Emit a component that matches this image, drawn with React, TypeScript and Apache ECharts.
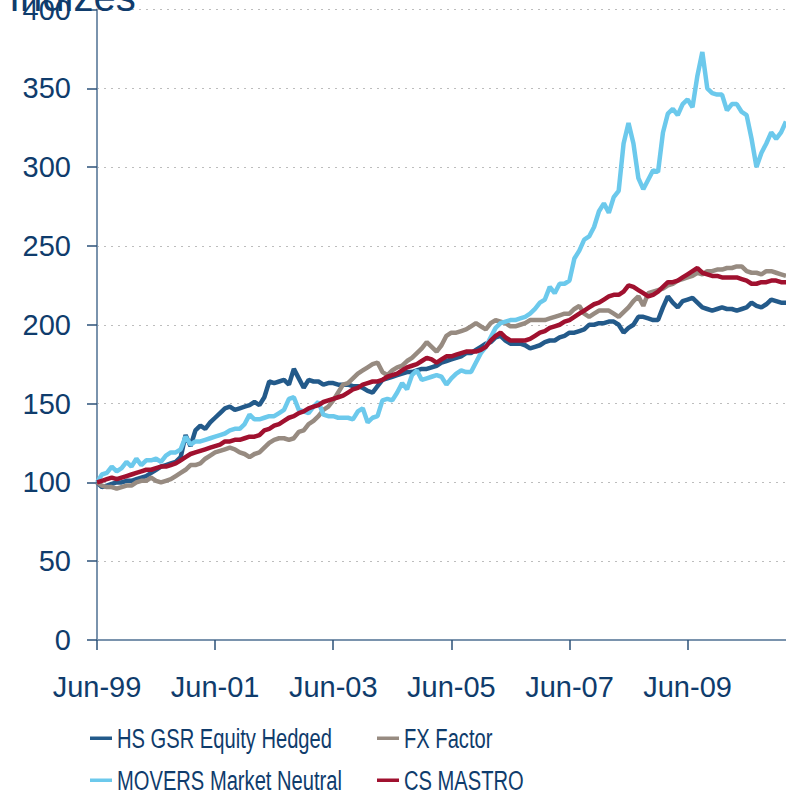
import React, { useEffect, useRef } from "react";
import * as echarts from "echarts";

// Monthly categories Jun-99 ... Feb-11
const MONTHS = ["Jan", "Feb", "Mar", "Apr", "May", "Jun", "Jul", "Aug", "Sep", "Oct", "Nov", "Dec"];
const START_YEAR = 1999;
const START_MONTH = 5; // Jun
const N_POINTS = 141;
const categories: string[] = Array.from({ length: N_POINTS }, (_, i) => {
  const m = (START_MONTH + i) % 12;
  const y = START_YEAR + Math.floor((START_MONTH + i) / 12);
  return `${MONTHS[m]}-${String(y % 100).padStart(2, "0")}`;
});

const yTicks = { min: 0, max: 400, interval: 50 };

const hsGsr = [
  100, 97, 98, 99, 100, 100, 101, 101, 102, 103, 104, 106, 108, 110, 111, 112, 113, 116, 130, 123,
  133, 136, 134, 138, 141, 144, 147, 148, 146, 147, 148, 149, 151, 149, 154, 164, 163, 164, 165, 162,
  172, 166, 160, 165, 164, 164, 162, 163, 163, 162, 162, 162, 161, 161, 160, 158, 157, 161, 165, 166,
  167, 168, 169, 170, 170, 171, 172, 172, 173, 174, 176, 177, 178, 179, 180, 182, 182, 184, 186, 188,
  189, 192, 193, 190, 188, 188, 188, 187, 185, 186, 187, 189, 190, 190, 192, 193, 195, 195, 196, 197,
  200, 200, 201, 201, 202, 202, 200, 195, 198, 200, 205, 205, 204, 203, 203, 211, 218, 214, 211, 215,
  216, 217, 214, 211, 210, 209, 210, 211, 210, 210, 209, 210, 211, 214, 212, 211, 213, 216, 215, 214,
  214,
];

const fxFactor = [
  100, 98, 97, 97, 96, 97, 98, 98, 100, 101, 101, 103, 101, 100, 101, 102, 104, 106, 108, 111,
  111, 112, 115, 117, 119, 120, 121, 122, 121, 119, 118, 116, 118, 119, 122, 125, 127, 128, 128, 127,
  128, 132, 133, 137, 139, 142, 146, 148, 152, 157, 162, 163, 166, 169, 171, 173, 175, 176, 170, 168,
  171, 173, 174, 177, 179, 182, 185, 189, 186, 183, 187, 193, 195, 195, 196, 197, 199, 201, 199, 197,
  201, 203, 202, 201, 199, 199, 200, 201, 203, 203, 203, 203, 204, 205, 206, 207, 207, 210, 212, 207,
  205, 207, 209, 209, 209, 207, 205, 208, 211, 215, 218, 212, 220, 221, 222, 223, 225, 226, 228, 229,
  230, 231, 233, 232, 234, 234, 235, 235, 236, 236, 237, 237, 234, 233, 233, 232, 234, 234, 233, 232,
  231,
];

const movers = [
  100, 105, 106, 110, 107, 109, 113, 110, 115, 111, 114, 114, 115, 113, 117, 119, 119, 121, 129, 124,
  126, 126, 127, 128, 129, 130, 131, 133, 134, 134, 137, 143, 140, 140, 141, 142, 142, 144, 146, 153,
  154, 146, 145, 144, 148, 151, 143, 142, 142, 141, 141, 141, 140, 145, 147, 138, 141, 142, 152, 153,
  152, 157, 163, 159, 168, 171, 165, 166, 167, 168, 167, 162, 166, 169, 171, 170, 170, 176, 182, 186,
  192, 198, 201, 202, 203, 203, 204, 205, 207, 210, 214, 216, 224, 220, 226, 226, 228, 242, 247, 254,
  256, 262, 272, 277, 271, 281, 285, 315, 328, 315, 293, 286, 292, 298, 297, 322, 334, 337, 333, 340,
  343, 338, 358, 373, 350, 347, 346, 346, 336, 340, 340, 335, 333, 318, 300, 309, 315, 322, 318, 322,
  329,
];

const csMastro = [
  100, 101, 102, 103, 102, 103, 104, 105, 106, 107, 108, 108, 109, 110, 110, 111, 112, 114, 116, 118,
  119, 120, 121, 122, 123, 124, 126, 126, 127, 127, 128, 129, 129, 130, 133, 134, 136, 137, 139, 141,
  142, 144, 145, 147, 148, 149, 151, 152, 153, 154, 155, 157, 159, 160, 162, 163, 164, 164, 165, 167,
  168, 169, 171, 173, 174, 175, 177, 179, 178, 176, 178, 180, 180, 181, 182, 183, 183, 183, 184, 186,
  190, 193, 195, 192, 190, 190, 190, 190, 191, 193, 195, 196, 198, 199, 200, 202, 203, 205, 207, 209,
  211, 213, 214, 216, 218, 219, 219, 221, 225, 224, 222, 220, 218, 219, 221, 224, 227, 227, 228, 230,
  232, 234, 236, 233, 232, 231, 231, 230, 230, 230, 230, 229, 228, 226, 226, 227, 227, 228, 228, 227,
  227,
];

const SERIES_NAMES = ["HS GSR Equity Hedged", "FX Factor", "MOVERS Market Neutral", "CS MASTRO"];
const SERIES_COLORS = ["#235A8A", "#978B81", "#6CC9EC", "#A0112F"];

const TEXT_COLOR = "#0F3C6C";
const FONT = "'Liberation Sans', Arial, sans-serif";

export default function App() {
  const ref = useRef<HTMLDivElement>(null);

  useEffect(() => {
    if (!ref.current) return;
    const chart = echarts.init(ref.current, undefined, { renderer: "svg" });
    const showEvery = (i: number) => i % 24 === 0;
    const seriesData = [hsGsr, fxFactor, movers, csMastro];
    const drawOrder = [0, 2, 1, 3];

    // legend layout (drawn as graphic: condensed text as in the reference)
    const legendPos = [
      { x: 90, y: 738 },
      { x: 377, y: 738 },
      { x: 90, y: 780 },
      { x: 377, y: 780 },
    ];
    const legendGraphics: any[] = [];
    SERIES_NAMES.forEach((name, k) => {
      const p = legendPos[k];
      legendGraphics.push({
        type: "rect",
        shape: { x: p.x, y: p.y - 1.5, width: 22, height: 3.5 },
        style: { fill: SERIES_COLORS[k] },
        silent: true,
      });
      legendGraphics.push({
        type: "text",
        x: p.x + 27,
        y: p.y,
        scaleX: 0.72,
        style: {
          text: name,
          fontSize: 28,
          fontFamily: FONT,
          fill: TEXT_COLOR,
          verticalAlign: "middle",
          align: "left",
        },
        silent: true,
      });
    });

    chart.setOption({
      animation: false,
      backgroundColor: "#ffffff",
      textStyle: { fontFamily: FONT },
      grid: {
        left: 97,
        right: 0,
        top: 9.5,
        bottom: 156,
        containLabel: false,
        outerBoundsMode: "none",
      },
      graphic: [
        {
          type: "text",
          x: 9,
          y: -3,
          style: {
            text: "Indizes",
            fontSize: 40,
            fontFamily: FONT,
            fill: TEXT_COLOR,
            verticalAlign: "middle",
            align: "left",
          },
          z: 10,
        },
        ...legendGraphics,
      ],
      xAxis: {
        type: "category",
        data: categories,
        boundaryGap: false,
        axisLine: { show: true, lineStyle: { color: "#7A93AD", width: 2 } },
        axisTick: {
          show: true,
          interval: (i: number) => showEvery(i),
          length: 10,
          lineStyle: { color: "#2B5078", width: 1.5 },
        },
        axisLabel: {
          interval: (i: number) => showEvery(i),
          fontSize: 29,
          color: TEXT_COLOR,
          margin: 32,
          fontFamily: FONT,
        },
        splitLine: { show: false },
      },
      yAxis: {
        type: "value",
        min: yTicks.min,
        max: yTicks.max,
        interval: yTicks.interval,
        axisLine: { show: true, lineStyle: { color: "#7A93AD", width: 2 } },
        axisTick: { show: true, length: 10, lineStyle: { color: "#2B5078", width: 1.5 } },
        axisLabel: { fontSize: 29, color: TEXT_COLOR, margin: 26, fontFamily: FONT },
        splitLine: { show: true, lineStyle: { color: "#BDBDBD", type: [2, 5], width: 1 } },
      },
      series: drawOrder.map((k) => ({
        name: SERIES_NAMES[k],
        type: "line",
        data: seriesData[k],
        showSymbol: false,
        symbol: "none",
        lineStyle: { color: SERIES_COLORS[k], width: 4.5 },
        itemStyle: { color: SERIES_COLORS[k] },
        z: 2 + k,
      })),
    });
    return () => chart.dispose();
  }, []);

  return (
    <div
      ref={ref}
      style={{ position: "fixed", left: 0, top: 0, width: 786, height: 796, background: "#fff" }}
    />
  );
}
